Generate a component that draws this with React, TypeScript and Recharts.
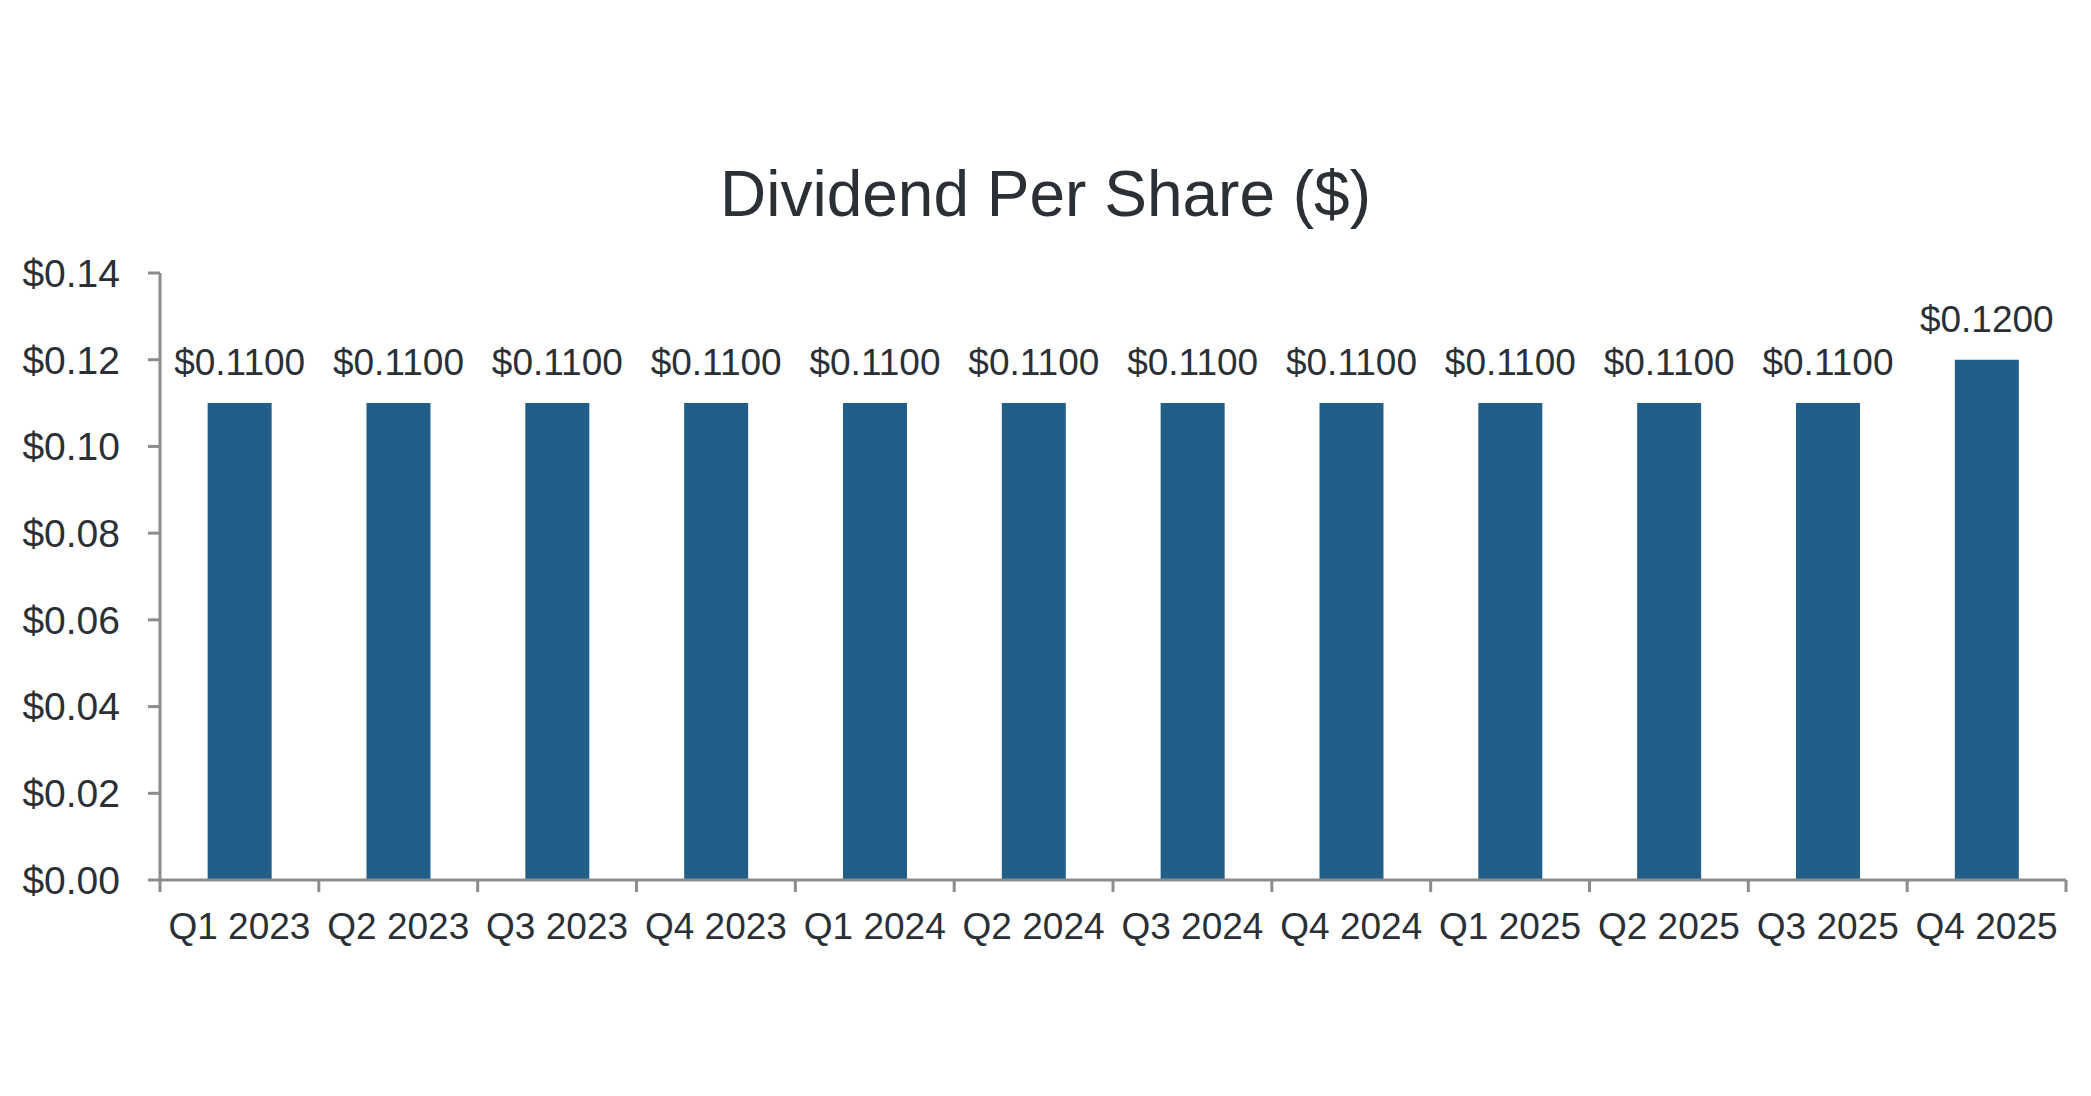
import React from 'react';
import { BarChart, Bar, XAxis, YAxis, LabelList } from 'recharts';

const quarters = [
    'Q1 2023', 'Q2 2023', 'Q3 2023', 'Q4 2023',
    'Q1 2024', 'Q2 2024', 'Q3 2024', 'Q4 2024',
    'Q1 2025', 'Q2 2025', 'Q3 2025', 'Q4 2025',
];
const dividends = [0.11, 0.11, 0.11, 0.11, 0.11, 0.11, 0.11, 0.11, 0.11, 0.11, 0.11, 0.12];
const yTicks = [0, 0.02, 0.04, 0.06, 0.08, 0.1, 0.12, 0.14];

const data = quarters.map((quarter, i) => ({ quarter, dps: dividends[i] }));

const WIDTH = 2091;
const HEIGHT = 1096;
const MARGIN = { top: 273, right: 25, bottom: 156, left: 0 };
const Y_AXIS_WIDTH = 160;
const X_TICK_SIZE = 12;
const X_TICK_MARGIN = 21;
const AXIS_COLOR = '#8c8c8c';
const TEXT_COLOR = '#2b2f36';
const BAR_COLOR = '#215f88';
const FONT = '"Liberation Sans", Arial, Helvetica, sans-serif';

const bandWidth = (WIDTH - MARGIN.left - MARGIN.right - Y_AXIS_WIDTH) / quarters.length;

// category labels sit in the middle, tick marks on the boundaries
const QuarterTick = (props: any) => {
    const { x, y, payload, index } = props;
    const axisY = y - X_TICK_MARGIN - X_TICK_SIZE;
    const left = x - bandWidth / 2;
    const right = x + bandWidth / 2;
    return (
        <g>
            <line x1={left} x2={left} y1={axisY} y2={axisY + X_TICK_SIZE} stroke={AXIS_COLOR} strokeWidth={3} />
            {index === quarters.length - 1 && (
                <line x1={right} x2={right} y1={axisY} y2={axisY + X_TICK_SIZE} stroke={AXIS_COLOR} strokeWidth={3} />
            )}
            <text x={x} y={y} dy="0.71em" textAnchor="middle" fill={TEXT_COLOR} fontSize={37} fontFamily={FONT}>
                {payload.value}
            </text>
        </g>
    );
};

const App: React.FC = () => {
    return (
        <div style={{ position: 'absolute', left: 0, top: 0, width: WIDTH, height: HEIGHT, background: '#fff' }}>
            <div
                style={{
                    position: 'absolute',
                    left: 0,
                    top: 162,
                    width: WIDTH,
                    textAlign: 'center',
                    fontFamily: FONT,
                    fontSize: 64,
                    lineHeight: '64px',
                    color: TEXT_COLOR,
                }}
            >
                Dividend Per Share ($)
            </div>
            <BarChart width={WIDTH} height={HEIGHT} data={data} margin={MARGIN} barCategoryGap="30%">
                <XAxis
                    dataKey="quarter"
                    interval={0}
                    height={60}
                    axisLine={{ stroke: AXIS_COLOR, strokeWidth: 3 }}
                    tickLine={false}
                    tickSize={X_TICK_SIZE}
                    tickMargin={X_TICK_MARGIN}
                    tick={<QuarterTick />}
                />
                <YAxis
                    width={Y_AXIS_WIDTH}
                    domain={[0, 0.14]}
                    ticks={yTicks}
                    interval={0}
                    axisLine={{ stroke: AXIS_COLOR, strokeWidth: 3 }}
                    tickLine={{ stroke: AXIS_COLOR, strokeWidth: 3 }}
                    tickSize={12}
                    tickMargin={28}
                    tickFormatter={(v: number) => `$${v.toFixed(2)}`}
                    tick={{ fill: TEXT_COLOR, fontSize: 39, fontFamily: FONT }}
                />
                <Bar dataKey="dps" fill={BAR_COLOR} isAnimationActive={false}>
                    <LabelList
                        dataKey="dps"
                        position="top"
                        offset={28}
                        formatter={(v: any) => `$${Number(v).toFixed(4)}`}
                        style={{ fill: TEXT_COLOR, fontSize: 37, fontFamily: FONT }}
                    />
                </Bar>
            </BarChart>
        </div>
    );
};

export default App;
